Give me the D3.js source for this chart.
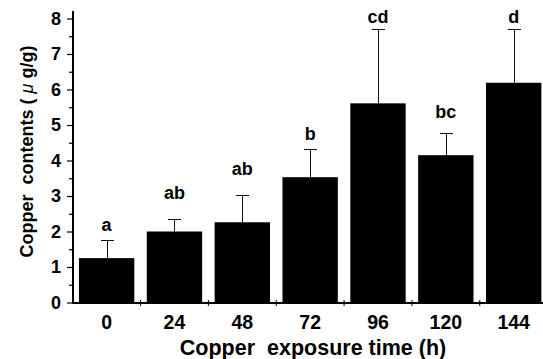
<!DOCTYPE html>
<html><head><meta charset="utf-8">
<script src="https://cdn.jsdelivr.net/npm/d3@7"></script>
<style>
body{margin:0;background:#fff}
svg text{font-family:"Liberation Sans",Arial,Helvetica,sans-serif;font-weight:bold;fill:#000}
</style>
</head><body><svg id="chart" width="543" height="359"></svg>
<script>
const categories = ["0","24","48","72","96","120","144"];
const means = [1.25, 2.0, 2.26, 3.53, 5.61, 4.15, 6.19];
const errorTops = [1.75, 2.34, 3.03, 4.33, 7.70, 4.78, 7.70];
const letters = ["a","ab","ab","b","cd","bc","d"];
const letterLevels = [2.01, 2.91, 3.59, 4.58, 7.88, 5.19, 7.88];
const yTicks = [0,1,2,3,4,5,6,7,8];
const yMinorTicks = [0.5,1.5,2.5,3.5,4.5,5.5,6.5,7.5];

const svg = d3.select("#chart");
const x = d3.scaleBand().domain(categories).range([72.7, 547.6]).paddingInner(0.184).paddingOuter(0.092);
const y = d3.scaleLinear().domain([0, 8]).range([302.5, 18.5]);

// bars
svg.append("g").selectAll("rect").data(categories).join("rect")
  .attr("x", d => x(d)).attr("width", x.bandwidth())
  .attr("y", (d,i) => y(means[i])).attr("height", (d,i) => y(0) - y(means[i]))
  .attr("fill", "#000");

// error bars (upper only)
const eb = svg.append("g").attr("stroke", "#111").attr("stroke-width", 1);
categories.forEach((c,i) => {
  const cx = Math.round(x(c) + x.bandwidth()/2) + 0.5;
  eb.append("line").attr("x1", cx).attr("x2", cx).attr("y1", y(means[i])).attr("y2", y(errorTops[i]));
  eb.append("line").attr("x1", cx-6.5).attr("x2", cx+6.5).attr("y1", Math.round(y(errorTops[i]))+0.5).attr("y2", Math.round(y(errorTops[i]))+0.5);
});

// significance letters
svg.append("g").selectAll("text").data(categories).join("text")
  .attr("x", d => x(d) + x.bandwidth()/2)
  .attr("y", (d,i) => y(letterLevels[i]))
  .attr("text-anchor", "middle").attr("font-size", 18)
  .text((d,i) => letters[i]);

// y axis
const yAxis = svg.append("g").attr("transform", "translate(72,0)")
  .call(d3.axisLeft(y).tickValues(yTicks).tickSize(5).tickPadding(6).tickFormat(d3.format("d")));
yAxis.select(".domain").remove();
yAxis.selectAll(".tick text").attr("font-size", 18).attr("font-family", null).attr("fill", "#000");
yAxis.selectAll(".tick line").attr("stroke", "#000").attr("stroke-width", 1.2);
svg.append("g").attr("transform", "translate(72,0)")
  .call(d3.axisLeft(y).tickValues(yMinorTicks).tickSize(3).tickFormat(""))
  .call(g => g.select(".domain").remove())
  .selectAll(".tick line").attr("stroke", "#000").attr("stroke-width", 1.2);
svg.append("line").attr("x1", 73).attr("x2", 73).attr("y1", 11).attr("y2", 304)
  .attr("stroke", "#000").attr("stroke-width", 2);

// x axis
const xAxis = svg.append("g").attr("transform", "translate(0,303)")
  .call(d3.axisBottom(x).tickSize(0).tickPadding(26));
xAxis.select(".domain").remove();
xAxis.selectAll(".tick text").attr("font-size", 19.5).attr("font-family", null).attr("fill", "#000").attr("dy", 0);
svg.append("line").attr("x1", 72).attr("x2", 548).attr("y1", 303).attr("y2", 303)
  .attr("stroke", "#000").attr("stroke-width", 2);
const boundaries = categories.map(c => x(c) - (x.step() - x.bandwidth())/2);
svg.append("g").selectAll("line").data(boundaries.slice(1)).join("line")
  .attr("x1", d => d).attr("x2", d => d).attr("y1", 300).attr("y2", 306)
  .attr("stroke", "#000").attr("stroke-width", 1);

// axis titles
svg.append("text").attr("x", 313).attr("y", 354.5).attr("text-anchor", "middle")
  .attr("font-size", 21.5).style("white-space", "pre").text("Copper  exposure time (h)");
svg.append("text").attr("transform", "translate(33,151.5) rotate(-90)").attr("text-anchor", "middle")
  .attr("font-size", 18).style("white-space", "pre")
  .html('Copper  contents ( <tspan font-style="italic" font-weight="normal">μ</tspan> g/g)');
</script></body></html>
